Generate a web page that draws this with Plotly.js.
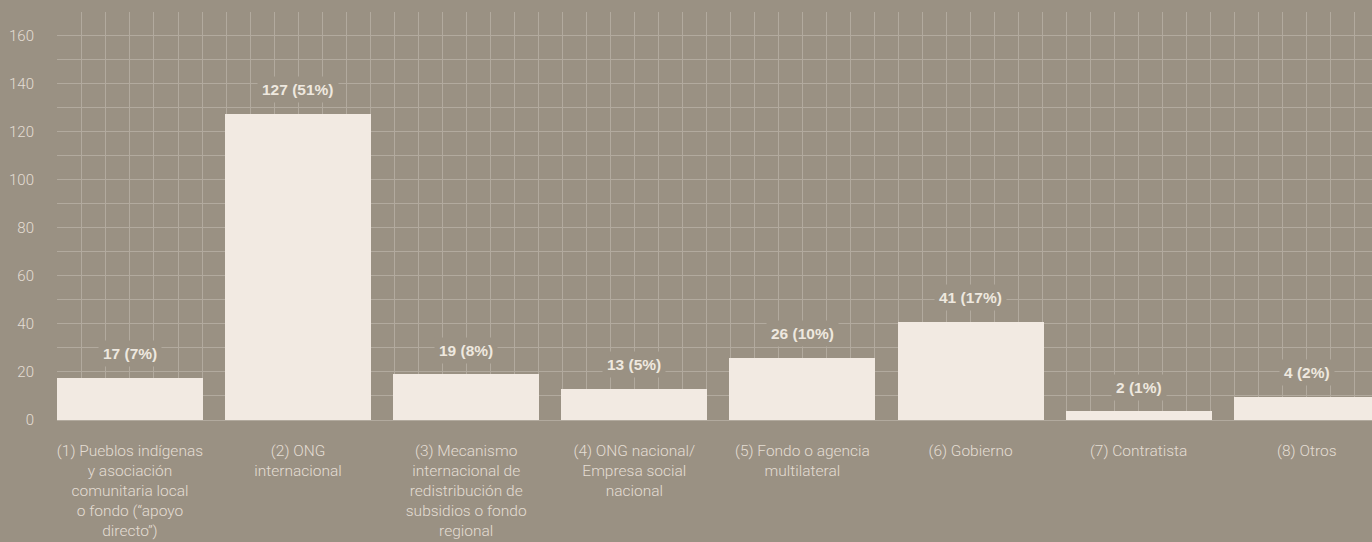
<!DOCTYPE html>
<html>
<head>
<meta charset="utf-8">
<script src="https://cdn.plot.ly/plotly-3.0.1.min.js"></script>
<style>
html,body{margin:0;padding:0;background:#9a9183;}
#chart{width:1372px;height:542px;}
</style>
</head>
<body>
<div id="chart"></div>
<script>
const categories = [
  "(1) Pueblos indígenas<br>y asociación<br>comunitaria local<br>o fondo (“apoyo<br>directo”)",
  "(2) ONG<br>internacional",
  "(3) Mecanismo<br>internacional de<br>redistribución de<br>subsidios o fondo<br>regional",
  "(4) ONG nacional/<br>Empresa social<br>nacional",
  "(5) Fondo o agencia<br>multilateral",
  "(6) Gobierno",
  "(7) Contratista",
  "(8) Otros"
];
const counts = [17, 127, 19, 13, 26, 41, 2, 4];
const shares = ["7%", "51%", "8%", "5%", "10%", "17%", "1%", "2%"];
// bar heights as drawn in the picture
const barHeights = [17.5, 127.5, 19, 13, 26, 41, 3.7, 9.6];
const yTicks = [0, 20, 40, 60, 80, 100, 120, 140, 160];

const BG = "#9a9183";
const GRID = "#b2aa9e";
const BAR = "#f2eae2";
const TXT = "#e4ddd3";

const xs = categories.map((_, i) => i);

const trace = {
  type: "bar",
  x: xs,
  y: barHeights,
  width: 0.868,
  marker: {color: BAR, line: {width: 0}},
  hoverinfo: "skip"
};

const annotations = xs.map((x, i) => ({
  x: x, y: barHeights[i], xref: "x", yref: "y",
  text: counts[i] + " (" + shares[i] + ")",
  showarrow: false,
  yanchor: "middle",
  yshift: 24,
  bgcolor: BG,
  borderpad: 4,
  font: {family: "Liberation Sans, Arial, sans-serif", size: 15.5, color: "#eee8df", weight: 700}
}));

const layout = {
  width: 1372, height: 542,
  margin: {l: 57, r: 0, t: 12, b: 122},
  paper_bgcolor: BG,
  plot_bgcolor: BG,
  showlegend: false,
  bargap: 0,
  xaxis: {
    range: [-0.434, 7.388],
    tickmode: "array",
    tickvals: xs,
    ticktext: categories,
    showgrid: true,
    gridcolor: GRID,
    gridwidth: 1,
    zeroline: false,
    showline: false,
    ticks: "",
    ticklabelstandoff: 19,
    tickfont: {family: "Roboto, Liberation Sans, sans-serif", size: 15.5, color: TXT, weight: 300},
    minor: {tickmode: "linear", tick0: 0, dtick: 1/7, showgrid: true, gridcolor: GRID, gridwidth: 1, ticks: ""},
    fixedrange: true
  },
  yaxis: {
    range: [0, 169.95],
    tickmode: "array",
    tickvals: yTicks,
    showgrid: true,
    gridcolor: GRID,
    gridwidth: 1,
    zeroline: true,
    zerolinecolor: GRID,
    zerolinewidth: 1,
    showline: false,
    ticks: "",
    ticklabelstandoff: 22,
    tickfont: {family: "Roboto, Liberation Sans, sans-serif", size: 15, color: TXT, weight: 300},
    minor: {tickmode: "linear", tick0: 0, dtick: 10, showgrid: true, gridcolor: GRID, gridwidth: 1, ticks: ""},
    fixedrange: true
  },
  annotations: annotations
};

Plotly.newPlot("chart", [trace], layout, {displayModeBar: false, staticPlot: true});
</script>
</body>
</html>
